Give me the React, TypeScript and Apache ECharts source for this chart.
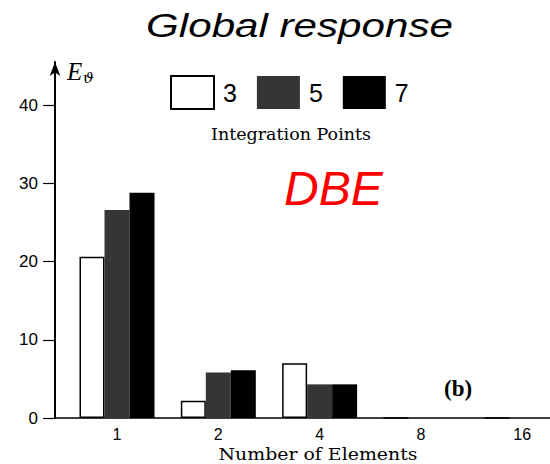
import React, { useEffect, useRef } from "react";
import * as echarts from "echarts";

const categories = ["1", "2", "4", "8", "16"];
const seriesNames = ["3", "5", "7"];
const points3 = [20.6, 2.2, 7.0, 0, 0];
const points5 = [26.6, 5.8, 4.3, 0, 0];
const points7 = [28.8, 6.1, 4.3, 0, 0];
const yTicks = [0, 10, 20, 30, 40];

const sans = "'Liberation Sans', Arial, sans-serif";
const serif = "'DejaVu Serif', serif";

export default function App() {
  const ref = useRef<HTMLDivElement>(null);
  useEffect(() => {
    document.body.style.margin = "0";
    const chart = echarts.init(ref.current!, null, { renderer: "svg" });
    const toData = (arr: number[]) => arr.map((v, i) => [i, v]);
    const fills = ["#ffffff", "#353535", "#000000"];
    const values = [points3, points5, points7];
    chart.setOption({
      animation: false,
      backgroundColor: "#ffffff",
      grid: {
        left: 55,
        right: 0,
        top: 62,
        bottom: 46,
        containLabel: false,
        outerBoundsMode: "none",
      },
      legend: {
        left: 170,
        top: 75,
        padding: 0,
        itemWidth: 43,
        itemHeight: 33,
        itemGap: 20,
        icon: "rect",
        data: seriesNames,
        textStyle: { fontSize: 25, fontFamily: sans, color: "#000", padding: [0, 0, 0, 4] },
      },
      xAxis: {
        type: "value",
        min: -0.612,
        max: 4.274,
        splitLine: { show: false },
        axisTick: { show: false },
        axisLine: { show: true, onZero: false, lineStyle: { color: "#000", width: 1.5 } },
        axisLabel: {
          customValues: [0, 1, 2, 3, 4],
          formatter: (v: number) => categories[Math.round(v)] ?? "",
          fontSize: 16,
          fontFamily: sans,
          color: "#000",
          margin: 8,
        },
      },
      yAxis: {
        type: "value",
        min: 0,
        max: 45.5,
        splitLine: { show: false },
        axisLine: {
          show: true,
          onZero: false,
          lineStyle: { color: "#000", width: 2 },
          symbol: ["none", "arrow"],
          symbolSize: [8, 14],
        },
        axisTick: {
          show: true,
          length: 12,
          customValues: yTicks,
          lineStyle: { color: "#000", width: 1.2 },
        },
        axisLabel: {
          customValues: yTicks,
          fontSize: 17,
          fontFamily: sans,
          color: "#000",
          margin: 17,
        },
      },
      series: seriesNames.map((name, k) => ({
        name,
        type: "bar",
        barWidth: 25,
        barGap: "0%",
        data: toData(values[k]),
        itemStyle: {
          color: fills[k],
          borderColor: "#000",
          borderWidth: k === 0 ? 1.5 : 0,
        },
      })),
      graphic: [
        {
          type: "text",
          x: 299.5,
          y: 25,
          scaleX: 1.24,
          style: {
            text: "Global response",
            fontSize: 34,
            fontStyle: "italic",
            fontFamily: sans,
            fill: "#000",
            align: "center",
            verticalAlign: "middle",
          },
        },
        {
          type: "text",
          x: 67,
          y: 71.5,
          style: {
            text: "E",
            fontSize: 25,
            fontStyle: "italic",
            fontFamily: "'Liberation Serif', serif",
            fill: "#000",
            align: "left",
            verticalAlign: "middle",
          },
        },
        {
          type: "text",
          x: 83,
          y: 78,
          style: {
            text: "ϑ",
            fontSize: 15,
            fontStyle: "italic",
            fontFamily: "'DejaVu Serif', serif",
            fill: "#000",
            align: "left",
            verticalAlign: "middle",
          },
        },
        {
          type: "text",
          x: 291,
          y: 134,
          style: {
            text: "Integration Points",
            fontSize: 17.5,
            fontFamily: serif,
            fill: "#000",
            align: "center",
            verticalAlign: "middle",
          },
        },
        {
          type: "text",
          x: 318,
          y: 454,
          scaleX: 1.08,
          style: {
            text: "Number of Elements",
            fontSize: 17.5,
            fontFamily: serif,
            fill: "#000",
            align: "center",
            verticalAlign: "middle",
          },
        },
        {
          type: "text",
          x: 284,
          y: 188,
          style: {
            text: "DBE",
            fontSize: 48,
            fontStyle: "italic",
            fontFamily: sans,
            fill: "#ff0000",
            align: "left",
            verticalAlign: "middle",
          },
        },
        {
          type: "text",
          x: 444,
          y: 388,
          style: {
            text: "(b)",
            fontSize: 23,
            fontWeight: "bold",
            fontFamily: "'Liberation Serif', serif",
            fill: "#000",
            align: "left",
            verticalAlign: "middle",
          },
        },
      ],
    });
    return () => chart.dispose();
  }, []);
  return (
    <div
      ref={ref}
      style={{ position: "absolute", left: 0, top: 0, width: 550, height: 464 }}
    />
  );
}
